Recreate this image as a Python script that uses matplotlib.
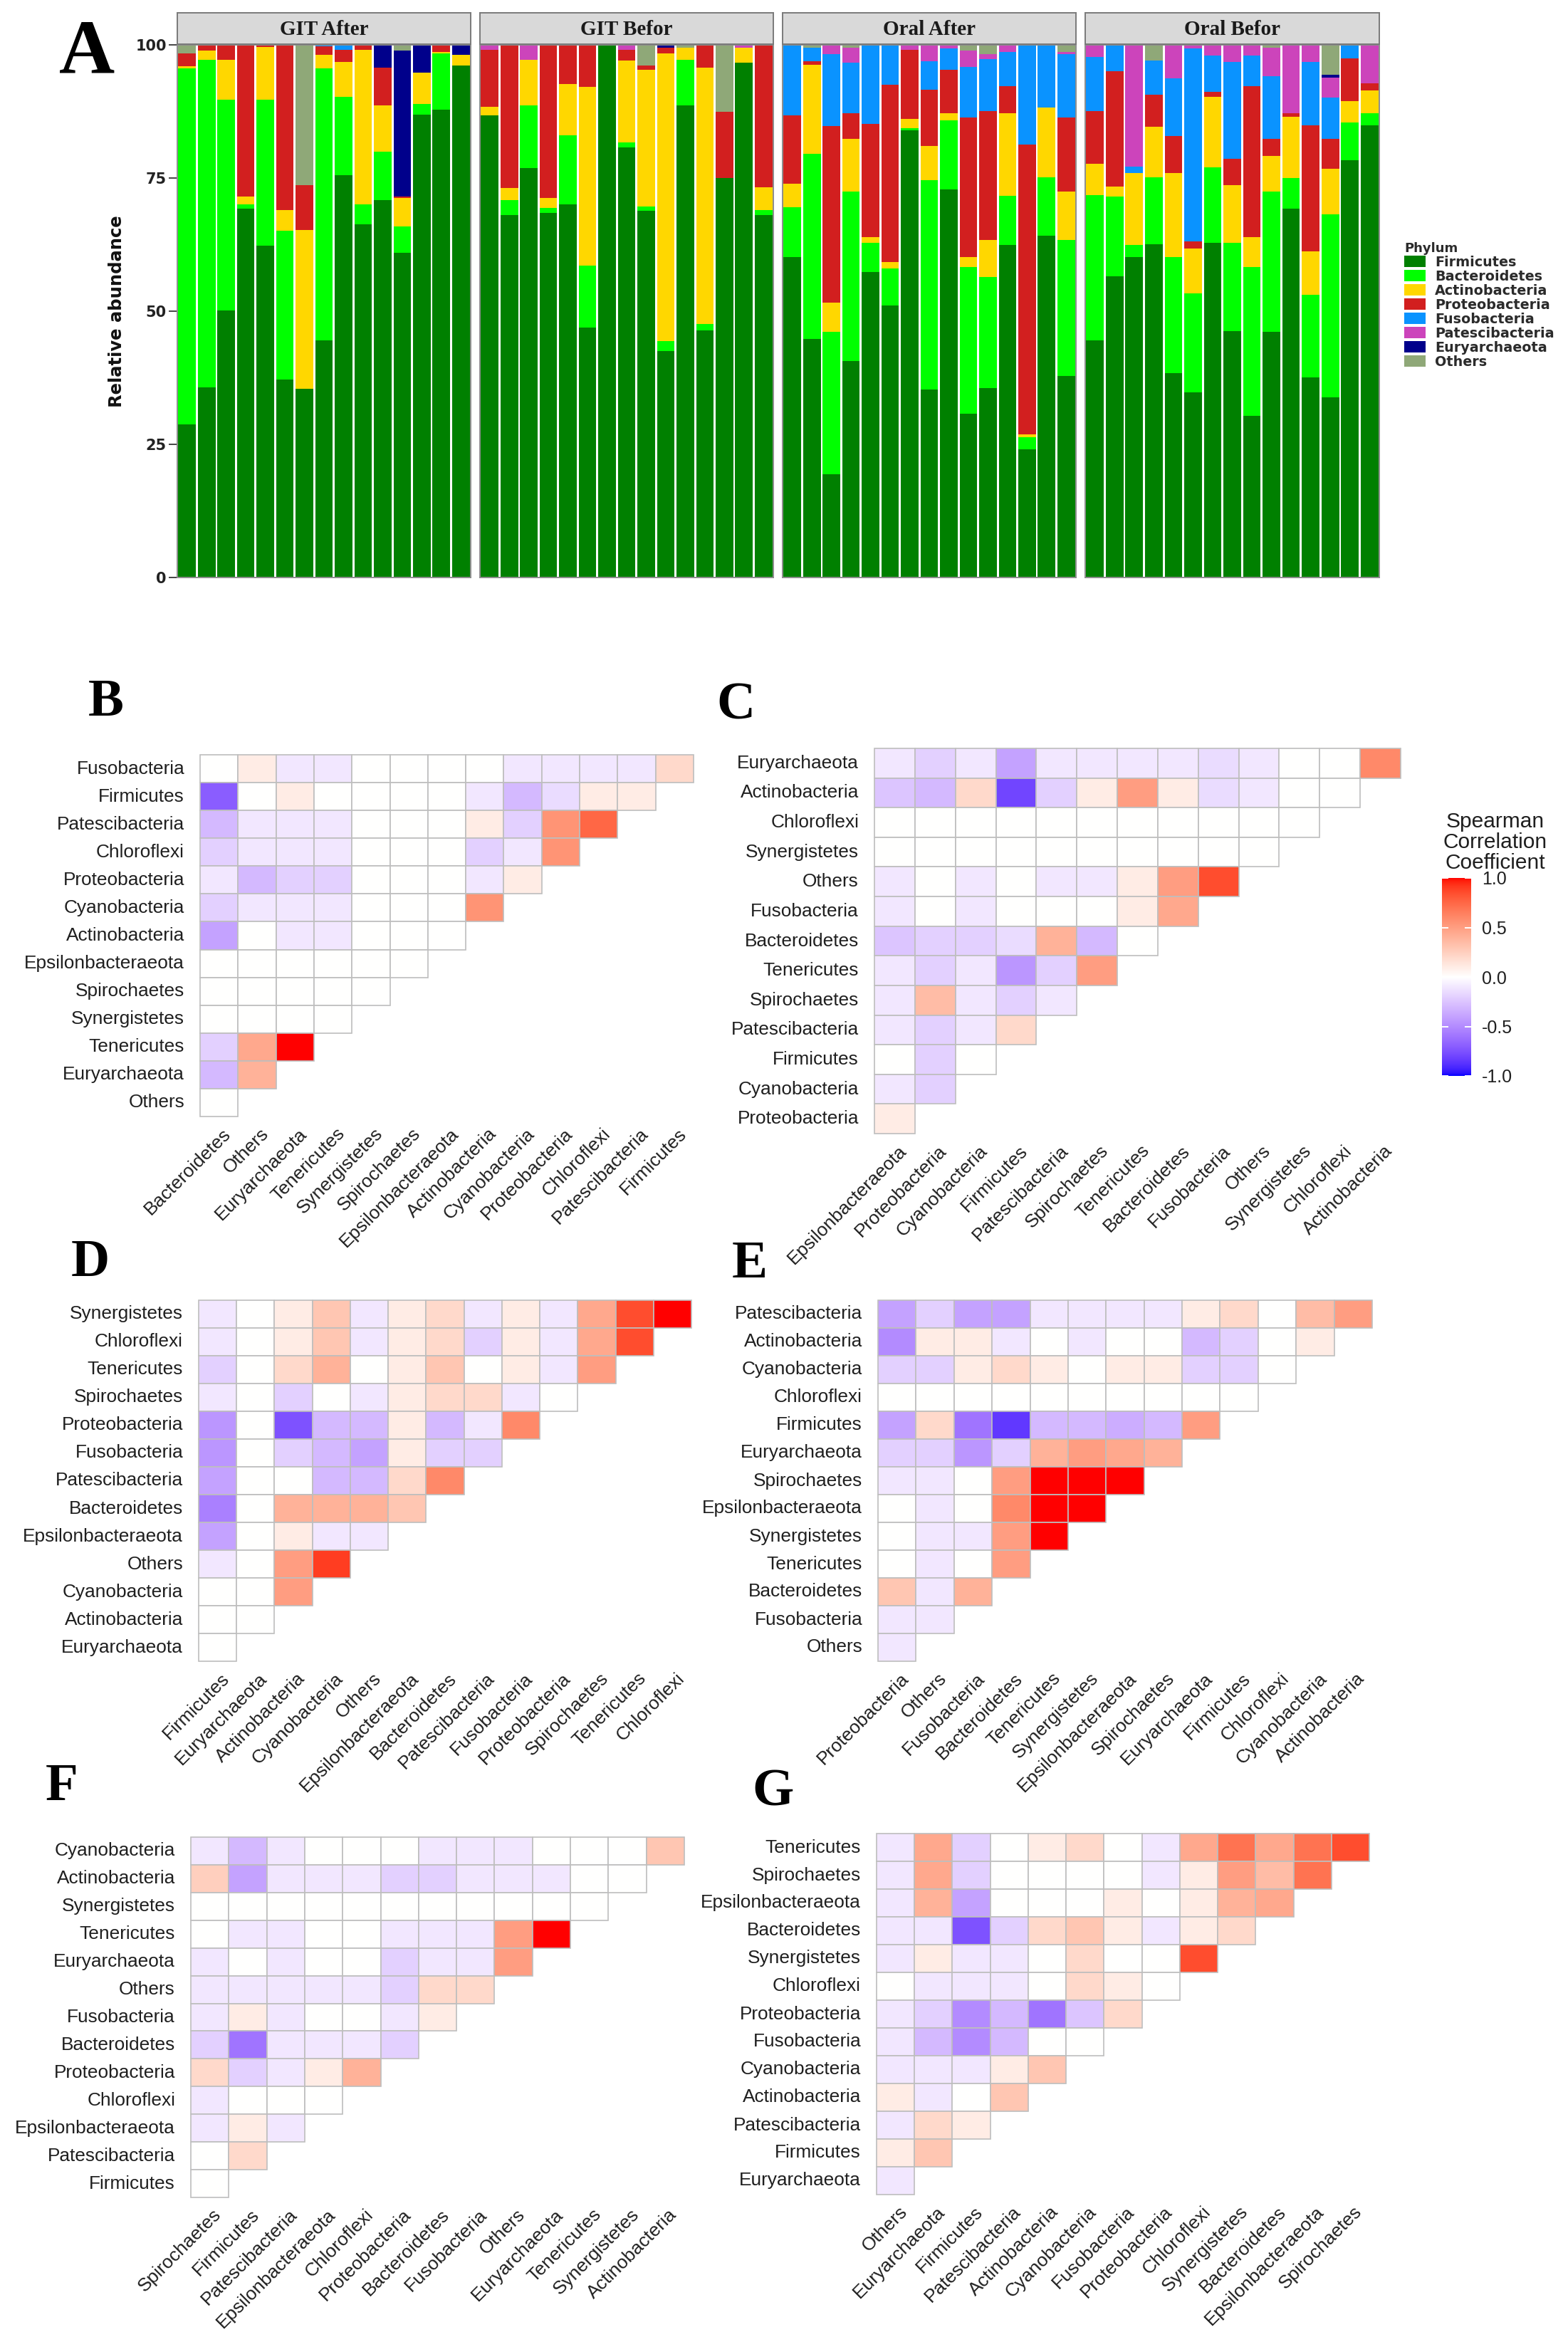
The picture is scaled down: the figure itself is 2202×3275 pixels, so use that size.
import numpy as np
import matplotlib
matplotlib.use("Agg")
import matplotlib.pyplot as plt
from matplotlib.patches import Rectangle, Patch
from matplotlib.colors import ListedColormap, Normalize
from matplotlib.transforms import ScaledTranslation
from matplotlib.font_manager import FontProperties
import matplotlib.cm as cm

# ---------------- DATA: panel A (relative abundance, %) ----------------
PHYLA = ["Firmicutes", "Bacteroidetes", "Actinobacteria", "Proteobacteria",
         "Fusobacteria", "Patescibacteria", "Euryarchaeota", "Others"]
PHYLA_COLORS = ["#008000", "#00FF00", "#FFD700", "#D21F1F",
                "#0A93FF", "#CC44BB", "#00008B", "#8FA878"]
FACETS = ["GIT After", "GIT Befor", "Oral After", "Oral Befor"]

GIT_AFTER = {
    "Firmicutes":      [28.7, 35.7, 50.2, 69.2, 62.3, 37.1, 35.4, 44.5, 75.6, 66.3, 70.8, 60.9, 86.9, 87.9, 96.1],
    "Bacteroidetes":   [66.9, 61.5, 39.5, 0.9, 27.4, 28.0, 0.0, 51.1, 14.6, 3.8, 9.2, 5.0, 2.0, 10.5, 0.0],
    "Actinobacteria":  [0.4, 1.7, 7.5, 1.4, 9.9, 3.9, 29.9, 2.5, 6.6, 29.0, 8.6, 5.3, 5.9, 0.3, 2.0],
    "Proteobacteria":  [2.4, 1.1, 2.8, 28.5, 0.4, 31.0, 8.3, 1.6, 2.3, 0.9, 7.1, 0.3, 0.0, 1.3, 0.0],
    "Fusobacteria":    [0.0, 0.0, 0.0, 0.0, 0.0, 0.0, 0.0, 0.3, 0.9, 0.0, 0.0, 0.0, 0.0, 0.0, 0.0],
    "Patescibacteria": [0.0] * 15,
    "Euryarchaeota":   [0.0, 0.0, 0.0, 0.0, 0.0, 0.0, 0.0, 0.0, 0.0, 0.0, 4.3, 27.4, 5.2, 0.0, 1.9],
    "Others":          [1.6, 0.0, 0.0, 0.0, 0.0, 0.0, 26.4, 0.0, 0.0, 0.0, 0.0, 1.1, 0.0, 0.0, 0.0],
}
GIT_BEFOR = {
    "Firmicutes":      [86.7, 68.1, 76.9, 68.4, 70.1, 46.9, 100.0, 80.8, 68.9, 42.5, 88.7, 46.4, 75.0, 96.6, 68.1],
    "Bacteroidetes":   [0.0, 2.8, 11.7, 1.0, 12.9, 11.7, 0.0, 0.9, 0.8, 1.9, 8.5, 1.2, 0.0, 0.0, 0.9],
    "Actinobacteria":  [1.7, 2.2, 8.6, 1.8, 9.7, 33.5, 0.0, 15.3, 25.6, 54.0, 2.3, 48.1, 0.0, 2.9, 4.3],
    "Proteobacteria":  [10.7, 26.9, 0.0, 28.8, 7.3, 7.9, 0.0, 2.1, 0.8, 1.1, 0.0, 4.3, 12.4, 0.0, 26.7],
    "Fusobacteria":    [0.0] * 15,
    "Patescibacteria": [0.9, 0.0, 2.8, 0.0, 0.0, 0.0, 0.0, 0.9, 0.0, 0.0, 0.0, 0.0, 0.0, 0.5, 0.0],
    "Euryarchaeota":   [0.0, 0.0, 0.0, 0.0, 0.0, 0.0, 0.0, 0.0, 0.0, 0.5, 0.0, 0.0, 0.0, 0.0, 0.0],
    "Others":          [0.0, 0.0, 0.0, 0.0, 0.0, 0.0, 0.0, 0.0, 3.9, 0.0, 0.5, 0.0, 12.6, 0.0, 0.0],
}
ORAL_AFTER = {
    "Firmicutes":      [60.1, 44.8, 19.4, 40.6, 57.4, 51.1, 84.0, 35.3, 72.9, 30.8, 35.6, 62.4, 24.1, 64.2, 37.9],
    "Bacteroidetes":   [9.4, 34.7, 26.7, 31.9, 5.5, 6.9, 0.3, 39.3, 12.9, 27.5, 20.8, 9.2, 2.3, 10.9, 25.5],
    "Actinobacteria":  [4.4, 16.8, 5.5, 9.8, 1.0, 1.2, 1.8, 6.4, 1.3, 1.8, 7.0, 15.6, 0.5, 13.2, 9.1],
    "Proteobacteria":  [12.8, 0.6, 33.1, 4.9, 21.2, 33.3, 12.9, 10.6, 8.2, 26.3, 24.2, 5.0, 54.4, 0.0, 13.9],
    "Fusobacteria":    [13.3, 2.6, 13.5, 9.4, 14.9, 7.5, 0.0, 5.3, 4.0, 9.5, 9.7, 6.4, 18.7, 11.7, 11.8],
    "Patescibacteria": [0.0, 0.0, 1.8, 2.8, 0.0, 0.0, 1.0, 3.1, 0.7, 3.0, 0.9, 1.4, 0.0, 0.0, 0.5],
    "Euryarchaeota":   [0.0] * 15,
    "Others":          [0.0, 0.5, 0.0, 0.6, 0.0, 0.0, 0.0, 0.0, 0.0, 1.1, 1.8, 0.0, 0.0, 0.0, 1.3],
}
ORAL_BEFOR = {
    "Firmicutes":      [44.5, 56.5, 60.1, 62.6, 38.4, 34.8, 62.9, 46.3, 30.3, 46.1, 69.3, 37.6, 33.8, 78.4, 84.9],
    "Bacteroidetes":   [27.3, 15.0, 2.3, 12.5, 21.7, 18.5, 14.1, 16.6, 28.0, 26.4, 5.7, 15.5, 34.4, 7.0, 2.2],
    "Actinobacteria":  [5.9, 1.9, 13.5, 9.5, 15.8, 8.5, 13.3, 10.7, 5.6, 6.7, 11.5, 8.1, 8.6, 4.0, 4.4],
    "Proteobacteria":  [9.9, 21.6, 0.0, 6.1, 7.0, 1.3, 0.9, 5.0, 28.3, 3.1, 0.6, 23.7, 5.5, 8.1, 1.3],
    "Fusobacteria":    [10.1, 5.0, 1.3, 6.4, 10.8, 36.2, 6.8, 18.2, 5.8, 11.8, 0.0, 11.9, 7.8, 2.5, 0.0],
    "Patescibacteria": [2.3, 0.0, 22.8, 0.0, 6.3, 0.7, 2.0, 3.2, 2.0, 5.3, 12.9, 3.2, 3.8, 0.0, 7.2],
    "Euryarchaeota":   [0.0, 0.0, 0.0, 0.0, 0.0, 0.0, 0.0, 0.0, 0.0, 0.0, 0.0, 0.0, 0.5, 0.0, 0.0],
    "Others":          [0.0, 0.0, 0.0, 2.9, 0.0, 0.0, 0.0, 0.0, 0.0, 0.6, 0.0, 0.0, 5.6, 0.0, 0.0],
}
FACET_DATA = [GIT_AFTER, GIT_BEFOR, ORAL_AFTER, ORAL_BEFOR]
A_YTICKS = [0, 25, 50, 75, 100]

# ---------------- DATA: Spearman correlation panels B-G ----------------
# x-axis labels (left to right), y-axis labels (top to bottom),
# rows of lower-triangle values (top row first, values follow x order)
B_X = ["Bacteroidetes", "Others", "Euryarchaeota", "Tenericutes", "Synergistetes", "Spirochaetes",
       "Epsilonbacteraeota", "Actinobacteria", "Cyanobacteria", "Proteobacteria", "Chloroflexi",
       "Patescibacteria", "Firmicutes"]
B_Y = ["Fusobacteria", "Firmicutes", "Patescibacteria", "Chloroflexi", "Proteobacteria", "Cyanobacteria",
       "Actinobacteria", "Epsilonbacteraeota", "Spirochaetes", "Synergistetes", "Tenericutes",
       "Euryarchaeota", "Others"]
B_R = [[0, 0.1, -0.1, -0.1, 0, 0, 0, 0, -0.1, -0.1, -0.1, -0.1, 0.2],
       [-0.7, 0, 0.1, 0, 0, 0, 0, -0.1, -0.3, -0.15, 0.1, 0.1],
       [-0.3, -0.1, -0.1, -0.1, 0, 0, 0, 0.1, -0.2, 0.55, 0.75],
       [-0.2, -0.1, -0.1, -0.1, 0, 0, 0, -0.2, -0.1, 0.55],
       [-0.1, -0.3, -0.2, -0.2, 0, 0, 0, -0.1, 0.1],
       [-0.2, -0.1, -0.1, -0.1, 0, 0, 0, 0.55],
       [-0.4, 0, -0.1, -0.1, 0, 0, 0],
       [0, 0, 0, 0, 0, 0],
       [0, 0, 0, 0, 0],
       [0, 0, 0, 0],
       [-0.2, 0.45, 1.0],
       [-0.3, 0.4],
       [0]]

C_X = ["Epsilonbacteraeota", "Proteobacteria", "Cyanobacteria", "Firmicutes", "Patescibacteria",
       "Spirochaetes", "Tenericutes", "Bacteroidetes", "Fusobacteria", "Others", "Synergistetes",
       "Chloroflexi", "Actinobacteria"]
C_Y = ["Euryarchaeota", "Actinobacteria", "Chloroflexi", "Synergistetes", "Others", "Fusobacteria",
       "Bacteroidetes", "Tenericutes", "Spirochaetes", "Patescibacteria", "Firmicutes",
       "Cyanobacteria", "Proteobacteria"]
C_R = [[-0.1, -0.2, -0.1, -0.4, -0.1, -0.1, -0.1, -0.1, -0.15, -0.1, 0, 0, 0.6],
       [-0.25, -0.3, 0.2, -0.8, -0.2, 0.1, 0.5, 0.1, -0.15, -0.1, 0, 0],
       [0, 0, 0, 0, 0, 0, 0, 0, 0, 0, 0],
       [0, 0, 0, 0, 0, 0, 0, 0, 0, 0],
       [-0.1, 0, -0.1, 0, -0.1, -0.1, 0.1, 0.5, 0.85],
       [-0.1, 0, -0.1, 0, 0, 0, 0.1, 0.45],
       [-0.25, -0.2, -0.2, -0.15, 0.4, -0.3, 0],
       [-0.1, -0.2, -0.1, -0.45, -0.2, 0.5],
       [-0.1, 0.35, -0.1, -0.2, -0.1],
       [-0.1, -0.2, -0.1, 0.2],
       [0, -0.2, 0],
       [-0.1, -0.2],
       [0.1]]

D_X = ["Firmicutes", "Euryarchaeota", "Actinobacteria", "Cyanobacteria", "Others", "Epsilonbacteraeota",
       "Bacteroidetes", "Patescibacteria", "Fusobacteria", "Proteobacteria", "Spirochaetes",
       "Tenericutes", "Chloroflexi"]
D_Y = ["Synergistetes", "Chloroflexi", "Tenericutes", "Spirochaetes", "Proteobacteria", "Fusobacteria",
       "Patescibacteria", "Bacteroidetes", "Epsilonbacteraeota", "Others", "Cyanobacteria",
       "Actinobacteria", "Euryarchaeota"]
D_R = [[-0.1, 0, 0.1, 0.3, -0.1, 0.1, 0.2, -0.1, 0.1, -0.1, 0.45, 0.85, 1.0],
       [-0.1, 0, 0.1, 0.3, -0.1, 0.1, 0.2, -0.2, 0.1, -0.1, 0.45, 0.85],
       [-0.2, 0, 0.2, 0.4, 0, 0.1, 0.3, 0, 0.1, -0.1, 0.5],
       [-0.1, 0, -0.2, 0, -0.1, 0.1, 0.2, 0.2, -0.1, 0],
       [-0.45, 0, -0.75, -0.3, -0.3, 0.1, -0.3, -0.1, 0.6],
       [-0.45, 0, -0.2, -0.3, -0.4, 0.1, -0.2, -0.2],
       [-0.4, 0, 0, -0.3, -0.3, 0.2, 0.6],
       [-0.55, 0, 0.4, 0.4, 0.4, 0.3],
       [-0.4, 0, 0.1, -0.1, -0.1],
       [-0.1, 0, 0.5, 0.9],
       [0, 0, 0.5],
       [0, 0],
       [0]]

E_X = ["Proteobacteria", "Others", "Fusobacteria", "Bacteroidetes", "Tenericutes", "Synergistetes",
       "Epsilonbacteraeota", "Spirochaetes", "Euryarchaeota", "Firmicutes", "Chloroflexi",
       "Cyanobacteria", "Actinobacteria"]
E_Y = ["Patescibacteria", "Actinobacteria", "Cyanobacteria", "Chloroflexi", "Firmicutes", "Euryarchaeota",
       "Spirochaetes", "Epsilonbacteraeota", "Synergistetes", "Tenericutes", "Bacteroidetes",
       "Fusobacteria", "Others"]
E_R = [[-0.4, -0.2, -0.4, -0.4, -0.1, -0.1, -0.1, -0.1, 0.1, 0.2, 0, 0.35, 0.5],
       [-0.5, 0.1, 0.1, -0.1, 0, -0.1, 0, 0, -0.3, -0.2, 0, 0.1],
       [-0.2, -0.2, 0.1, 0.2, 0.1, 0, 0.1, 0.1, -0.2, -0.2, 0],
       [0, 0, 0, 0, 0, 0, 0, 0, 0, 0],
       [-0.4, 0.2, -0.6, -0.85, -0.3, -0.3, -0.35, -0.3, 0.5],
       [-0.2, -0.2, -0.45, -0.2, 0.4, 0.5, 0.45, 0.4],
       [-0.1, -0.1, 0, 0.5, 1.0, 1.0, 1.0],
       [0, -0.1, 0, 0.6, 1.0, 1.0],
       [0, -0.1, -0.1, 0.5, 1.0],
       [0, -0.1, 0, 0.5],
       [0.3, -0.1, 0.4],
       [-0.1, -0.1],
       [-0.1]]

F_X = ["Spirochaetes", "Firmicutes", "Patescibacteria", "Epsilonbacteraeota", "Chloroflexi",
       "Proteobacteria", "Bacteroidetes", "Fusobacteria", "Others", "Euryarchaeota", "Tenericutes",
       "Synergistetes", "Actinobacteria"]
F_Y = ["Cyanobacteria", "Actinobacteria", "Synergistetes", "Tenericutes", "Euryarchaeota", "Others",
       "Fusobacteria", "Bacteroidetes", "Proteobacteria", "Chloroflexi", "Epsilonbacteraeota",
       "Patescibacteria", "Firmicutes"]
F_R = [[-0.1, -0.3, -0.1, 0, 0, 0, -0.1, -0.1, -0.1, 0, 0, 0, 0.3],
       [0.25, -0.4, -0.1, -0.1, -0.1, -0.2, -0.2, -0.1, -0.1, -0.1, 0, 0],
       [0, 0, 0, 0, 0, 0, 0, 0, 0, 0, 0],
       [0, -0.1, -0.1, 0, 0, -0.1, -0.1, -0.1, 0.5, 1.0],
       [-0.1, 0, -0.1, 0, 0, -0.2, -0.1, -0.1, 0.5],
       [-0.1, -0.1, -0.1, -0.1, -0.1, -0.2, 0.2, 0.2],
       [-0.1, 0.1, -0.1, 0, 0, -0.1, 0.1],
       [-0.2, -0.6, -0.1, -0.1, -0.1, -0.2],
       [0.2, -0.2, -0.1, 0.1, 0.4],
       [-0.1, 0, 0, 0],
       [-0.1, 0.1, -0.1],
       [0, 0.2],
       [0]]

G_X = ["Others", "Euryarchaeota", "Firmicutes", "Patescibacteria", "Actinobacteria", "Cyanobacteria",
       "Fusobacteria", "Proteobacteria", "Chloroflexi", "Synergistetes", "Bacteroidetes",
       "Epsilonbacteraeota", "Spirochaetes"]
G_Y = ["Tenericutes", "Spirochaetes", "Epsilonbacteraeota", "Bacteroidetes", "Synergistetes", "Chloroflexi",
       "Proteobacteria", "Fusobacteria", "Cyanobacteria", "Actinobacteria", "Patescibacteria",
       "Firmicutes", "Euryarchaeota"]
G_R = [[-0.1, 0.45, -0.2, 0, 0.1, 0.2, 0, -0.1, 0.45, 0.7, 0.45, 0.7, 0.85],
       [-0.1, 0.45, -0.2, 0, 0, 0, 0, -0.1, 0.1, 0.5, 0.35, 0.7],
       [-0.1, 0.4, -0.4, 0, 0, 0, 0.1, 0, 0.1, 0.4, 0.45],
       [-0.1, -0.1, -0.75, -0.2, 0.2, 0.3, 0.1, -0.1, 0.1, 0.2],
       [-0.1, 0.1, -0.1, -0.1, 0, 0.2, 0, 0, 0.85],
       [0, -0.1, -0.1, -0.1, 0, 0.2, 0.1, 0],
       [-0.1, -0.2, -0.5, -0.3, -0.6, -0.25, 0.2],
       [-0.1, -0.3, -0.5, -0.3, 0, 0],
       [-0.1, -0.1, -0.1, 0.1, 0.3],
       [0.1, -0.1, 0, 0.3],
       [-0.1, 0.2, 0.1],
       [0.1, 0.3],
       [-0.1]]

CBAR_TICKS = [-1.0, -0.5, 0.0, 0.5, 1.0]

# ---------------- colour scale (Lab interpolation like ggplot) ----------------
_M = np.array([[0.4124564, 0.3575761, 0.1804375],
               [0.2126729, 0.7151522, 0.0721750],
               [0.0193339, 0.1191920, 0.9503041]])
_WHITE = np.array([0.95047, 1.0, 1.08883])


def srgb_to_lab(c):
    c = np.asarray(c, float)
    lin = np.where(c <= 0.04045, c / 12.92, ((c + 0.055) / 1.055) ** 2.4)
    t = (_M @ lin) / _WHITE
    d = 6 / 29
    f = np.where(t > d ** 3, np.cbrt(t), t / (3 * d * d) + 4 / 29)
    return np.array([116 * f[1] - 16, 500 * (f[0] - f[1]), 200 * (f[1] - f[2])])


def lab_to_srgb(lab):
    L, a, b = lab
    fy = (L + 16) / 116
    f = np.array([fy + a / 500, fy, fy - b / 200])
    d = 6 / 29
    t = np.where(f > d, f ** 3, 3 * d * d * (f - 4 / 29))
    lin = np.clip(np.linalg.inv(_M) @ (t * _WHITE), 0, 1)
    c = np.where(lin <= 0.0031308, 12.92 * lin, 1.055 * lin ** (1 / 2.4) - 0.055)
    return np.clip(c, 0, 1)


_lab_low = srgb_to_lab([0, 0, 1])
_lab_mid = srgb_to_lab([1, 1, 1])
_lab_high = srgb_to_lab([1, 0, 0])
_cols = []
for v in np.linspace(-1, 1, 512):
    if v < 0:
        lab = _lab_mid + (-v) * (_lab_low - _lab_mid)
    else:
        lab = _lab_mid + v * (_lab_high - _lab_mid)
    _cols.append(lab_to_srgb(lab))
CMAP = ListedColormap(_cols)
NORM = Normalize(-1, 1)

# ---------------- figure ----------------
W, H = 2202, 3275
fig = plt.figure(figsize=(W / 100, H / 100), dpi=100)


def frect(x0, y0, x1, y1):
    return [x0 / W, 1 - y1 / H, (x1 - x0) / W, (y1 - y0) / H]


def px(dx, dy):
    return ScaledTranslation(dx / 100, -dy / 100, fig.dpi_scale_trans)


SERIF = "Liberation Serif"
SANS = "Liberation Sans"

# ---------------- panel A ----------------
FACET_X = [(249, 661), (674, 1086), (1099, 1511), (1524, 1937)]
PLOT_TOP, PLOT_BOT = 63, 811
STRIP_TOP = 18
BORDER = "#8C8C8C"

for k, (name, data) in enumerate(zip(FACETS, FACET_DATA)):
    x0, x1 = FACET_X[k]
    ax = fig.add_axes(frect(x0, PLOT_TOP, x1, PLOT_BOT))
    xs = np.arange(1, 16)
    bottom = np.zeros(15)
    for ph, col in zip(PHYLA, PHYLA_COLORS):
        vals = np.array(data[ph], float)
        ax.bar(xs, vals, width=0.9, bottom=bottom, color=col, linewidth=0)
        bottom += vals
    ax.set_xlim(0.5, 15.5)
    ax.set_ylim(0, 100)
    ax.set_xticks([])
    for s in ax.spines.values():
        s.set_color(BORDER)
        s.set_linewidth(1.4)
    if k == 0:
        ax.set_yticks(A_YTICKS)
        ax.set_yticklabels([str(t) for t in A_YTICKS], fontfamily="DejaVu Sans",
                           fontweight="bold", fontsize=15, color="#222222")
        ax.tick_params(axis="y", length=9, width=1.4, color="#444444", pad=2)
        ax.set_ylabel("Relative abundance", fontfamily="DejaVu Sans", fontweight="bold",
                      fontsize=17.5, color="#111111", labelpad=10)
    else:
        ax.set_yticks([])
    sax = fig.add_axes(frect(x0, STRIP_TOP, x1, PLOT_TOP - 1))
    sax.set_facecolor("#D9D9D9")
    sax.set_xticks([])
    sax.set_yticks([])
    for s in sax.spines.values():
        s.set_color("#7A7A7A")
        s.set_linewidth(1.4)
    sax.text(0.5, 0.47, name, ha="center", va="center", fontfamily=SERIF,
             fontweight="bold", fontsize=21, color="#1a1a1a", transform=sax.transAxes)

fig.text(83 / W, 1 - 102 / H, "A", fontfamily=SERIF, fontweight="bold", fontsize=78,
         ha="left", va="baseline")

handles = [Patch(facecolor=c, edgecolor="none", label=n) for n, c in zip(PHYLA, PHYLA_COLORS)]
leg = fig.legend(handles=handles, loc="upper left", bbox_to_anchor=(1972 / W, 1 - 340 / H),
                 frameon=False, title="Phylum",
                 prop=FontProperties(family="DejaVu Sans", weight="bold", size=13.8),
                 title_fontproperties=FontProperties(family="DejaVu Sans", weight="bold", size=13),
                 handlelength=1.55, handleheight=0.92, handletextpad=0.7, labelspacing=0.05,
                 borderpad=0, borderaxespad=0, alignment="left", labelcolor="#2b2b2b")
leg.get_title().set_color("#2b2b2b")

# ---------------- heatmaps ----------------
LAB_COLOR = "#1f1f1f"
LAB_SIZE = 18.9


def heatmap(rect, xlabels, ylabels, rows, letter, letter_xy):
    ax = fig.add_axes(frect(*rect))
    n = len(ylabels)
    ax.set_xlim(0, n)
    ax.set_ylim(0, n)
    ax.axis("off")
    for i, row in enumerate(rows):
        y = n - 1 - i
        for j, v in enumerate(row):
            ax.add_patch(Rectangle((j, y), 1, 1, facecolor=CMAP(NORM(v)),
                                   edgecolor="#BEBEBE", linewidth=1.2, clip_on=False))
    for i, lab in enumerate(ylabels):
        ax.text(0, n - 1 - i + 0.5, lab, ha="right", va="center", fontfamily=SANS,
                fontsize=LAB_SIZE, color=LAB_COLOR, transform=ax.transData + px(-22, 0))
    for j, lab in enumerate(xlabels):
        ax.text(j + 0.5, 0, lab, ha="right", va="top", rotation=45, rotation_mode="anchor",
                fontfamily=SANS, fontsize=LAB_SIZE, color=LAB_COLOR,
                transform=ax.transData + px(4, 12))
    fig.text(letter_xy[0] / W, 1 - letter_xy[1] / H, letter, fontfamily=SERIF,
             fontweight="bold", fontsize=54, ha="left", va="baseline")
    return ax


heatmap((281, 1060, 974, 1568), B_X, B_Y, B_R, "B", (124, 1005))
heatmap((1228, 1051, 1967, 1592), C_X, C_Y, C_R, "C", (1006, 1010))
heatmap((279, 1826, 971, 2333), D_X, D_Y, D_R, "D", (100, 1792))
heatmap((1233, 1826, 1927, 2333), E_X, E_Y, E_R, "E", (1028, 1794))
heatmap((268, 2580, 961, 3086), F_X, F_Y, F_R, "F", (64, 2528))
heatmap((1231, 2575, 1923, 3082), G_X, G_Y, G_R, "G", (1056, 2536))

# ---------------- colour bar ----------------
cax = fig.add_axes(frect(2025, 1233, 2066, 1511))
sm = cm.ScalarMappable(norm=NORM, cmap=CMAP)
cb = fig.colorbar(sm, cax=cax, ticks=CBAR_TICKS)
cb.outline.set_visible(False)
cax.tick_params(length=0, pad=11)
cax.set_yticklabels(["-1.0", "-0.5", "0.0", "0.5", "1.0"], fontfamily=SANS, fontsize=18,
                    color="#1f1f1f")
for t in CBAR_TICKS:
    cax.plot([0, 0.2], [t, t], color="white", lw=1.4, transform=cax.get_yaxis_transform(),
             clip_on=False)
    cax.plot([0.8, 1.0], [t, t], color="white", lw=1.4, transform=cax.get_yaxis_transform(),
             clip_on=False)
for line, yy in zip(["Spearman", "Correlation", "Coefficient"], [1154, 1183, 1212]):
    fig.text(2100 / W, 1 - yy / H, line, ha="center", va="center", fontfamily=SANS,
             fontsize=21.5, color="#1f1f1f")

fig.savefig("out.png", dpi=100)
